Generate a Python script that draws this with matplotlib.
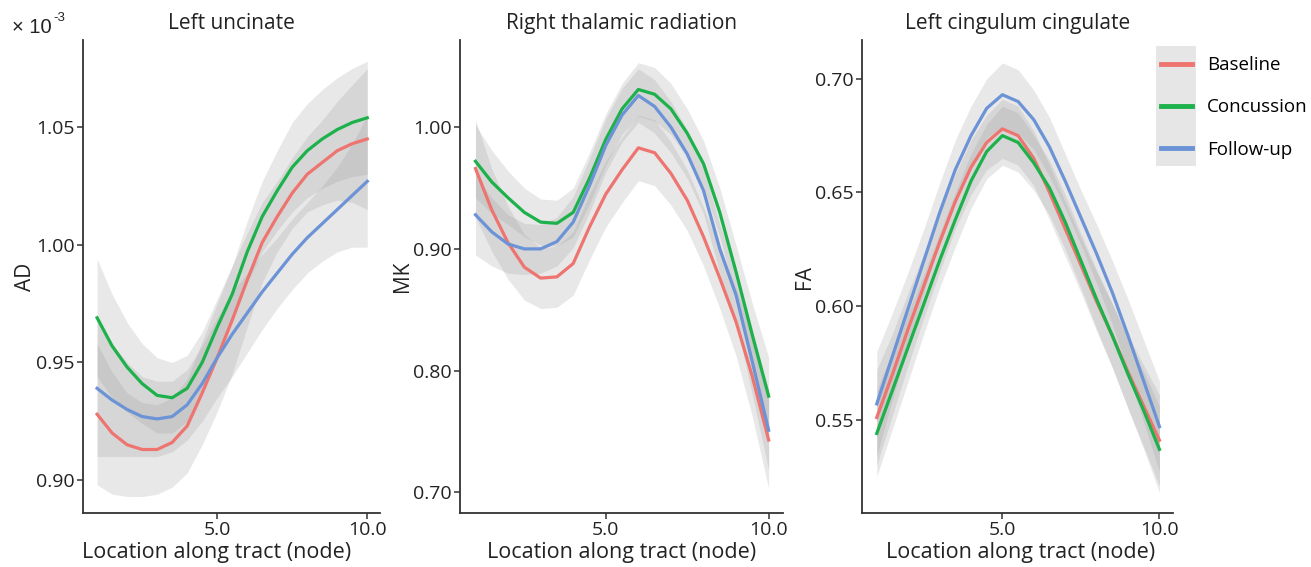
import numpy as np
import matplotlib.pyplot as plt
from matplotlib.patches import Rectangle

plt.rcParams['font.family'] = ['Open Sans', 'DejaVu Sans']

# nodes along the tract (every half node)
nodes = [1.0, 1.5, 2.0, 2.5, 3.0, 3.5, 4.0, 4.5, 5.0, 5.5,
         6.0, 6.5, 7.0, 7.5, 8.0, 8.5, 9.0, 9.5, 10.0]

groups = ['Baseline', 'Concussion', 'Follow-up']
colors = ['#EE7470', '#1DB14B', '#6B93D6']

# Left uncinate, AD (x 10^-3)
ad_base = [0.928, 0.920, 0.915, 0.913, 0.913, 0.916, 0.923, 0.937, 0.952, 0.968,
           0.985, 1.001, 1.012, 1.022, 1.030, 1.035, 1.040, 1.043, 1.045]
ad_conc = [0.969, 0.957, 0.948, 0.941, 0.936, 0.935, 0.939, 0.950, 0.965, 0.979,
           0.997, 1.012, 1.023, 1.033, 1.040, 1.045, 1.049, 1.052, 1.054]
ad_foll = [0.939, 0.934, 0.930, 0.927, 0.926, 0.927, 0.932, 0.941, 0.952, 0.962,
           0.971, 0.980, 0.988, 0.996, 1.003, 1.009, 1.015, 1.021, 1.027]
ad_base_ci = [0.030, 0.026, 0.022, 0.020, 0.019, 0.019, 0.020, 0.022, 0.023, 0.023,
              0.020, 0.017, 0.015, 0.015, 0.016, 0.018, 0.021, 0.025, 0.030]
ad_conc_ci = [0.025, 0.022, 0.019, 0.017, 0.016, 0.015, 0.014, 0.013, 0.012, 0.012,
              0.013, 0.015, 0.017, 0.019, 0.020, 0.021, 0.022, 0.023, 0.024]
ad_foll_ci = [0.029, 0.024, 0.020, 0.017, 0.016, 0.015, 0.015, 0.016, 0.017, 0.018,
              0.017, 0.016, 0.015, 0.015, 0.015, 0.016, 0.018, 0.022, 0.028]

# Right thalamic radiation, MK
mk_base = [0.966, 0.932, 0.905, 0.885, 0.876, 0.877, 0.888, 0.918, 0.945, 0.965,
           0.983, 0.979, 0.962, 0.940, 0.910, 0.876, 0.840, 0.795, 0.743]
mk_conc = [0.972, 0.955, 0.942, 0.930, 0.922, 0.921, 0.930, 0.958, 0.990, 1.015,
           1.031, 1.027, 1.015, 0.995, 0.970, 0.930, 0.881, 0.829, 0.779]
mk_foll = [0.928, 0.914, 0.904, 0.900, 0.900, 0.906, 0.922, 0.952, 0.985, 1.010,
           1.026, 1.017, 1.000, 0.978, 0.948, 0.900, 0.862, 0.807, 0.751]
mk_base_ci = [0.040, 0.034, 0.030, 0.027, 0.025, 0.025, 0.026, 0.027, 0.027, 0.027,
              0.027, 0.027, 0.026, 0.025, 0.024, 0.025, 0.028, 0.033, 0.040]
mk_conc_ci = [0.030, 0.026, 0.022, 0.020, 0.019, 0.019, 0.020, 0.021, 0.021, 0.021,
              0.022, 0.022, 0.021, 0.020, 0.019, 0.020, 0.022, 0.026, 0.032]
mk_foll_ci = [0.033, 0.028, 0.024, 0.021, 0.020, 0.020, 0.021, 0.022, 0.022, 0.022,
              0.022, 0.022, 0.021, 0.020, 0.019, 0.020, 0.022, 0.027, 0.033]

# Left cingulum cingulate, FA
fa_base = [0.551, 0.570, 0.590, 0.609, 0.628, 0.646, 0.661, 0.672, 0.678, 0.675,
           0.665, 0.650, 0.634, 0.618, 0.602, 0.587, 0.571, 0.556, 0.541]
fa_conc = [0.544, 0.563, 0.582, 0.601, 0.620, 0.638, 0.655, 0.668, 0.675, 0.672,
           0.663, 0.652, 0.637, 0.620, 0.603, 0.587, 0.570, 0.554, 0.537]
fa_foll = [0.557, 0.578, 0.599, 0.620, 0.641, 0.660, 0.675, 0.687, 0.693, 0.690,
           0.682, 0.670, 0.655, 0.639, 0.623, 0.606, 0.587, 0.567, 0.547]
fa_base_ci = [0.021, 0.018, 0.016, 0.014, 0.013, 0.012, 0.012, 0.012, 0.013, 0.013,
              0.012, 0.012, 0.012, 0.012, 0.013, 0.014, 0.016, 0.018, 0.020]
fa_conc_ci = [0.019, 0.017, 0.015, 0.013, 0.012, 0.012, 0.012, 0.012, 0.013, 0.013,
              0.012, 0.012, 0.012, 0.012, 0.013, 0.014, 0.015, 0.017, 0.019]
fa_foll_ci = [0.023, 0.019, 0.016, 0.014, 0.013, 0.013, 0.013, 0.013, 0.014, 0.014,
              0.013, 0.013, 0.012, 0.012, 0.013, 0.014, 0.016, 0.018, 0.020]

panels = [
    ('Left uncinate', 'AD', [ad_base, ad_conc, ad_foll], [ad_base_ci, ad_conc_ci, ad_foll_ci],
     (0.886, 1.087), [0.90, 0.95, 1.00, 1.05]),
    ('Right thalamic radiation', 'MK', [mk_base, mk_conc, mk_foll], [mk_base_ci, mk_conc_ci, mk_foll_ci],
     (0.683, 1.0715), [0.70, 0.80, 0.90, 1.00]),
    ('Left cingulum cingulate', 'FA', [fa_base, fa_conc, fa_foll], [fa_base_ci, fa_conc_ci, fa_foll_ci],
     (0.509, 0.717), [0.55, 0.60, 0.65, 0.70]),
]

fig = plt.figure(figsize=(13.11, 5.67), dpi=100)
boxes = [(0.0633, 0.2267), (0.351, 0.246), (0.6575, 0.2372)]
xlabel_pos = [0.45, 0.5, 0.51]

x = np.array(nodes)
for i, (title, ylab, series, cis, ylim, yticks) in enumerate(panels):
    ax = fig.add_axes([boxes[i][0], 0.0952, boxes[i][1], 0.834])
    for vals, ci in zip(series, cis):
        v = np.array(vals)
        c = np.array(ci)
        ax.fill_between(x, v - c, v + c, color='#999999', alpha=0.22, linewidth=0)
    for vals, col, name in zip(series, colors, groups):
        ax.plot(x, vals, color=col, lw=2.3, label=name, solid_joinstyle='round')
    ax.set_xlim(0.53, 10.43)
    ax.set_ylim(*ylim)
    ax.set_xticks([5.0, 10.0])
    ax.set_xticklabels(['5.0', '10.0'])
    ax.set_yticks(yticks)
    ax.set_yticklabels([f'{t:.2f}' for t in yticks])
    ax.spines['top'].set_visible(False)
    ax.spines['right'].set_visible(False)
    for s in ['left', 'bottom']:
        ax.spines[s].set_color('#333333')
        ax.spines[s].set_linewidth(1.3)
    ax.tick_params(axis='both', labelsize=14, length=4, width=1.1, color='#333333',
                   labelcolor='#222222', pad=2)
    ax.set_title(title, fontsize=15, color='#222222', pad=8)
    ax.set_xlabel('Location along tract (node)', fontsize=15.5, color='#222222')
    ax.xaxis.set_label_coords(xlabel_pos[i], -0.062)
    ax.set_ylabel(ylab, fontsize=15, color='#222222', labelpad=0)
    if i == 2:
        handles, labels = ax.get_legend_handles_labels()

# multiplier note on the first panel
fig.text(0.009, 0.952, '× 10', fontsize=14.5, family='Liberation Sans', color='#222222', va='center')
fig.text(0.041, 0.968, '-3', fontsize=9.5, family='Liberation Sans', color='#222222', va='center')

# legend with grey key background
fig.patches.append(Rectangle((1156 / 1311, 1 - 166 / 567), 40 / 1311, 120 / 567,
                             transform=fig.transFigure, facecolor='#E6E6E6',
                             edgecolor='none', zorder=0))
leg = fig.legend(handles, labels, loc='upper left', bbox_to_anchor=(1156 / 1311, 1 - 51 / 567),
                 frameon=False, fontsize=13.5, handlelength=1.65, handletextpad=0.8,
                 labelspacing=1.3, borderpad=0.27, borderaxespad=0)
for line in leg.get_lines():
    line.set_linewidth(3.5)

fig.savefig('out.png', dpi=100)
